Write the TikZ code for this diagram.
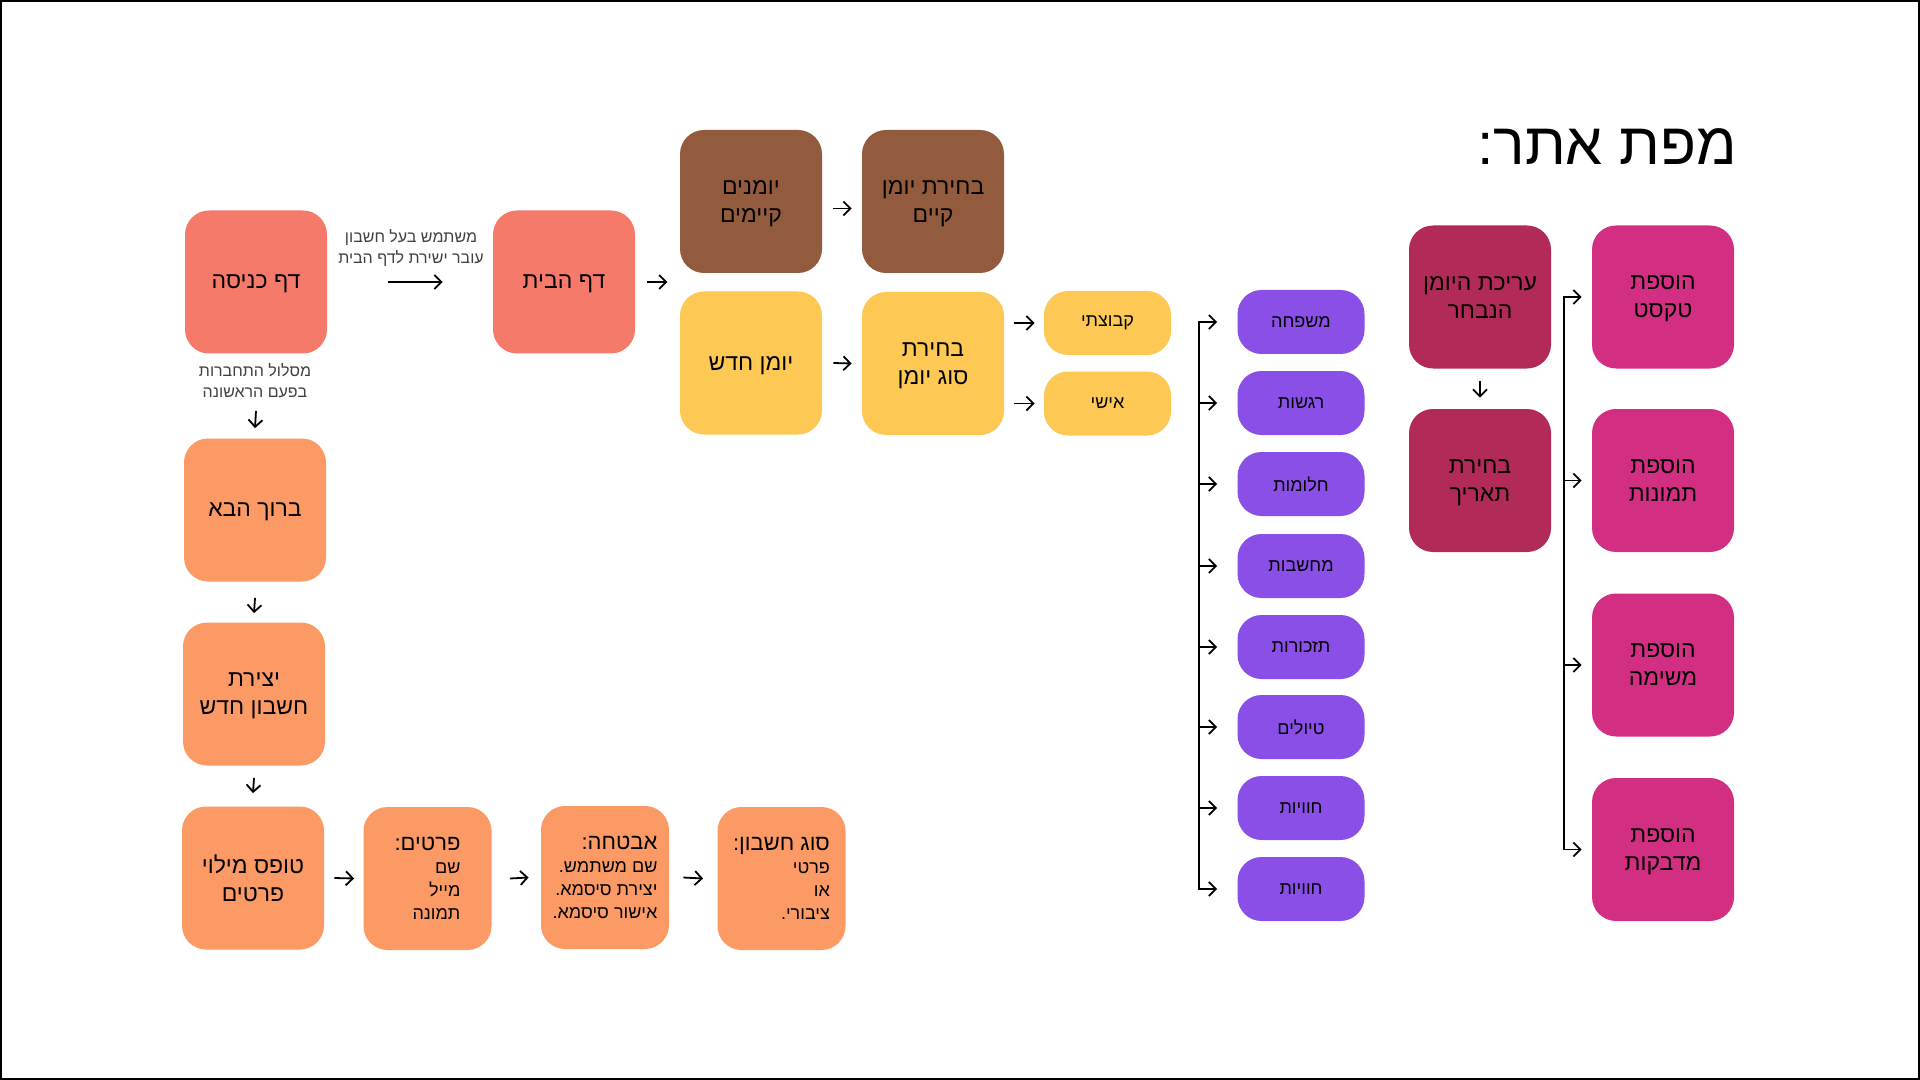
\documentclass[tikz,border=0pt]{standalone}
\usepackage{fontspec}
\setmainfont[Script=Hebrew]{Liberation Sans}
\TeXXeTstate=1
\usetikzlibrary{arrows.meta,calc}
\definecolor{salmonc}{HTML}{F57A6A}
\definecolor{apricot}{HTML}{FC9A66}
\definecolor{brownc}{HTML}{925B3E}
\definecolor{yellowc}{HTML}{FEC855}
\definecolor{purplec}{HTML}{8A4FE6}
\definecolor{raspb}{HTML}{B12A58}
\definecolor{magentac}{HTML}{D22F83}
\newcommand\RL[1]{\beginR #1\endR}
\tikzset{
  bigbox/.style={rounded corners=12pt, minimum width=71pt, minimum height=71.5pt, inner sep=0pt, align=center, text depth=-1pt, font=\fontsize{11.5}{14}\selectfont},
  midbox/.style={rounded corners=12pt, minimum width=64pt, minimum height=71.5pt, inner sep=0pt, align=right, font=\fontsize{9}{11.5}\selectfont},
  pill/.style={rounded corners=12pt, minimum width=63.5pt, minimum height=32pt, inner sep=0pt, font=\fontsize{9}{11}\selectfont},
  arr/.style={-{Straight Barb[length=3.5pt,width=7pt]}, line width=0.9pt},
  trunk/.style={line width=0.9pt, line cap=rect},
  note/.style={font=\fontsize{8}{10.5}\selectfont, text=black!75, align=center, inner sep=0pt}
}
\begin{document}
\begin{tikzpicture}[x=0.5pt,y=-0.5pt]
\useasboundingbox (0,0) rectangle (1920,1080);
\draw[line width=0.8pt] (0.8,0.8) rectangle (1919.2,1079.2);

% title
\node[anchor=base east, inner sep=0pt, font=\fontsize{29.5}{36}\selectfont] (title) at (1737,165) {\RL{מפת אתר:}};

% salmon
\node[bigbox, fill=salmonc] (entry) at (256,282) {\RL{דף כניסה}};
\node[bigbox, fill=salmonc] (home) at (564,282) {\RL{דף הבית}};
\node[note] (lblA) at (411,248) {\RL{משתמש בעל חשבון}\\\RL{עובר ישירת לדף הבית}};
\node[note] (lblB) at (255,381) {\RL{מסלול התחברות}\\\RL{בפעם הראשונה}};
\draw[arr] ($(entry.east)+(61,0)$) -- ($(home.west)+(-50,0)$);
\draw[arr] ($(home.east)+(12,0)$) -- ($(home.east)+(32,0)$);

% orange column
\node[bigbox, fill=apricot] (welcome) at (255,510) {\RL{ברוך הבא}};
\node[bigbox, fill=apricot] (create) at (254,694) {\RL{יצירת}\\\RL{חשבון חדש}};
\node[bigbox, fill=apricot] (form) at (253,878) {\RL{טופס מילוי}\\\RL{פרטים}};
\draw[arr] ($(entry.south)+(0,57)$) -- ($(welcome.north)+(0,-10)$);
\draw[arr] ($(welcome.south)+(0,16)$) -- ($(create.north)+(0,-9)$);
\draw[arr] ($(create.south)+(0,12)$) -- ($(form.north)+(0,-13)$);

% bottom row
\node[midbox, fill=apricot] (details) at (427.5,878.5) {{\fontsize{11}{13}\selectfont\RL{פרטים:}}\\\RL{שם}\\\RL{מייל}\\\RL{תמונה}};
\node[midbox, fill=apricot] (security) at (605,877.5) {{\fontsize{11}{13}\selectfont\RL{אבטחה:}}\\\RL{שם משתמש.}\\\RL{יצירת סיסמא.}\\\RL{אישור סיסמא.}};
\node[midbox, fill=apricot] (acct) at (781.5,878.5) {{\fontsize{11}{13}\selectfont\RL{סוג חשבון:}}\\\RL{פרטי}\\\RL{או}\\\RL{ציבורי.}};
\draw[arr] ($(form.east)+(10,0)$) -- ($(details.west)+(-9,0)$);
\draw[arr] ($(details.east)+(18,0)$) -- ($(security.west)+(-12,0)$);
\draw[arr] ($(security.east)+(14,0)$) -- ($(acct.west)+(-14,0)$);

% brown / yellow
\node[bigbox, fill=brownc] (existing) at (751,201.5) {\RL{יומנים}\\\RL{קיימים}};
\node[bigbox, fill=brownc] (chooseE) at (933,201.5) {\RL{בחירת יומן}\\\RL{קיים}};
\node[bigbox, fill=yellowc] (newj) at (751,363) {\RL{יומן חדש}};
\node[bigbox, fill=yellowc] (chooseT) at (933,363.5) {\RL{בחירת}\\\RL{סוג יומן}};
\node[pill, fill=yellowc] (group) at (1107.5,323) {\RL{קבוצתי}};
\node[pill, fill=yellowc] (personal) at (1107.5,403.5) {\RL{אישי}};
\draw[arr] ($(existing.east)+(11,7)$) -- ($(chooseE.west)+(-10,7)$);
\draw[arr] ($(newj.east)+(11,0)$) -- ($(chooseT.west)+(-10,0)$);
\draw[arr] ($(chooseT.east |- group.west)+(10,0)$) -- ($(group.west)+(-9,0)$);
\draw[arr] ($(chooseT.east |- personal.west)+(10,0)$) -- ($(personal.west)+(-9,0)$);

% purple
\foreach \i/\yy/\t in {1/322/משפחה,2/403/רגשות,3/484/חלומות,4/566/מחשבות,5/647/תזכורות,6/727/טיולים,7/808/חוויות,8/889/חוויות}{
  \node[pill, fill=purplec] (p\i) at (1301,\yy) {\RL{\t}};
}
\coordinate (ptop) at (1199,322);
\coordinate (pbot) at (1199,889);
\draw[trunk] (ptop) -- (pbot);
\foreach \i in {1,...,8}{
  \draw[arr] (ptop |- p\i.west) -- ($(p\i.west)+(-20,0)$);
}

% right section
\node[bigbox, fill=raspb] (edit) at (1480,297) {\RL{עריכת היומן}\\\RL{הנבחר}};
\node[bigbox, fill=raspb] (date) at (1480,480.5) {\RL{בחירת}\\\RL{תאריך}};
\draw[arr] ($(edit.south)+(0,12)$) -- ($(date.north)+(0,-11)$);
\node[bigbox, fill=magentac] (addtext) at (1663,297) {\RL{הוספת}\\\RL{טקסט}};
\node[bigbox, fill=magentac] (addimg) at (1663,480.5) {\RL{הוספת}\\\RL{תמונות}};
\node[bigbox, fill=magentac] (addlist) at (1663,665) {\RL{הוספת}\\\RL{משימה}};
\node[bigbox, fill=magentac] (addstk) at (1663,849.5) {\RL{הוספת}\\\RL{מדבקות}};
\coordinate (rtop) at (1564,297);
\coordinate (rbot) at (1564,849.5);
\draw[trunk] (rtop) -- (rbot);
\foreach \n in {addtext,addimg,addlist,addstk}{
  \draw[arr] (rtop |- \n.west) -- ($(\n.west)+(-10,0)$);
}
\end{tikzpicture}
\end{document}
